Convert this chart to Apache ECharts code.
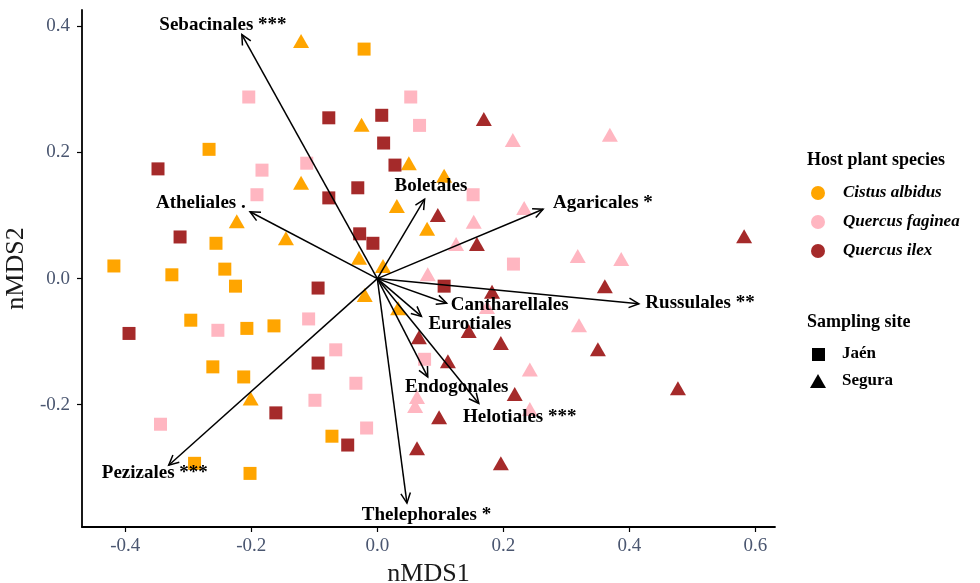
<!DOCTYPE html>
<html>
<head>
<meta charset="utf-8">
<script src="https://cdn.jsdelivr.net/npm/echarts@6/dist/echarts.min.js"></script>
<style>
  html, body { margin: 0; padding: 0; background: #fff; }
  #main { width: 980px; height: 583px; }
</style>
</head>
<body>
<div id="main"></div>
<script>
// site scores (nMDS1, nMDS2) per host plant and sampling site
const cistusJaen = [[-0.021,0.364],[-0.267,0.205],[-0.256,0.056],[-0.418,0.020],[-0.326,0.006],[-0.242,0.015],[-0.225,-0.012],[-0.296,-0.066],[-0.207,-0.079],[-0.164,-0.075],[-0.261,-0.140],[-0.212,-0.156],[-0.072,-0.250],[-0.290,-0.293],[-0.202,-0.309]];
const cistusSegura = [[-0.121,0.377],[-0.025,0.244],[-0.121,0.152],[-0.223,0.091],[-0.145,0.064],[-0.029,0.033],[0.009,0.020],[-0.020,-0.026],[0.033,-0.047],[0.050,0.183],[0.106,0.163],[0.031,0.115],[0.079,0.079],[-0.201,-0.190]];
const fagineaJaen = [[-0.204,0.288],[-0.183,0.172],[-0.112,0.183],[-0.191,0.133],[0.053,0.288],[0.067,0.243],[0.152,0.133],[0.216,0.023],[-0.253,-0.082],[-0.109,-0.064],[-0.066,-0.113],[-0.034,-0.166],[-0.099,-0.193],[-0.344,-0.231],[-0.017,-0.237],[0.075,-0.128]];
const fagineaSegura = [[0.215,0.220],[0.369,0.228],[0.233,0.112],[0.153,0.090],[0.125,0.055],[0.318,0.036],[0.387,0.031],[0.080,0.007],[0.320,-0.074],[0.242,-0.144],[0.063,-0.188],[0.060,-0.202],[0.242,-0.207],[0.174,-0.045]];
const ilexJaen = [[-0.077,0.255],[0.007,0.259],[0.010,0.215],[-0.348,0.174],[0.028,0.180],[-0.031,0.144],[-0.077,0.128],[-0.313,0.066],[-0.028,0.071],[-0.007,0.056],[-0.094,-0.015],[0.106,-0.012],[-0.394,-0.087],[-0.094,-0.134],[-0.161,-0.213],[-0.047,-0.264]];
const ilexSegura = [[0.169,0.253],[0.096,0.101],[0.158,0.055],[0.582,0.067],[0.182,-0.021],[0.361,-0.012],[0.066,-0.093],[0.145,-0.083],[0.196,-0.102],[0.350,-0.112],[0.112,-0.131],[0.218,-0.183],[0.477,-0.174],[0.098,-0.220],[0.063,-0.269],[0.196,-0.293]];

// fitted vectors (envfit) and where their labels sit
const orderNames = ['Sebacinales ***','Atheliales .','Boletales','Agaricales *','Russulales **','Cantharellales','Eurotiales','Endogonales','Helotiales ***','Thelephorales *','Pezizales ***'];
const arrowX = [-0.215,-0.202,0.075,0.263,0.415,0.110,0.070,0.080,0.161,0.047,-0.331];
const arrowY = [0.387,0.106,0.126,0.110,-0.040,-0.039,-0.060,-0.156,-0.198,-0.356,-0.296];
const labelX = [-0.245,-0.280,0.085,0.358,0.512,0.210,0.147,0.126,0.226,0.078,-0.353];
const labelY = [0.402,0.120,0.147,0.120,-0.039,-0.042,-0.072,-0.172,-0.220,-0.375,-0.309];

const ticks = [-0.4, -0.2, 0, 0.2, 0.4, 0.6];
const yTicks = [-0.2, 0, 0.2, 0.4];

const ORANGE = '#FFA500', PINK = '#FFB6C1', BROWN = '#A52A2A';
const SERIF = '"Liberation Serif", "DejaVu Serif", serif';

var chart = echarts.init(document.getElementById('main'));

function pts(name, data, color, symbol) {
  return {
    name: name,
    type: 'scatter',
    data: data,
    symbol: symbol,
    symbolSize: symbol === 'triangle' ? [16, 14] : 13,
    itemStyle: { color: color, opacity: 1 },
    z: 2,
  };
}

chart.setOption({
  animation: false,
  backgroundColor: '#fff',
  grid: { left: 82, right: 205, top: 10, bottom: 56, containLabel: false, outerBoundsMode: 'none' },
  xAxis: {
    type: 'value',
    min: -0.4686,
    max: 0.631,
    name: 'nMDS1',
    nameLocation: 'middle',
    nameGap: 24,
    nameTextStyle: { fontFamily: SERIF, fontSize: 26, color: '#1a1a1a' },
    axisLine: { show: true, onZero: false, lineStyle: { color: '#000', width: 1.8 } },
    axisTick: { show: true, length: 5, customValues: ticks, lineStyle: { color: '#000', width: 1.2 } },
    axisLabel: {
      customValues: ticks,
      margin: 10,
      fontFamily: SERIF,
      fontSize: 19,
      color: '#4a5670',
      formatter: function (v) { return v.toFixed(1); },
    },
    splitLine: { show: false },
  },
  yAxis: {
    type: 'value',
    min: -0.394,
    max: 0.426,
    name: 'nMDS2',
    nameLocation: 'middle',
    nameGap: 43,
    nameTextStyle: { fontFamily: SERIF, fontSize: 26, color: '#1a1a1a' },
    axisLine: { show: true, onZero: false, lineStyle: { color: '#000', width: 1.8 } },
    axisTick: { show: true, length: 5, customValues: yTicks, lineStyle: { color: '#000', width: 1.2 } },
    axisLabel: {
      customValues: yTicks,
      margin: 12,
      fontFamily: SERIF,
      fontSize: 19,
      color: '#4a5670',
      formatter: function (v) { return v.toFixed(1); },
    },
    splitLine: { show: false },
  },
  series: [
    pts('Cistus albidus Jaén', cistusJaen, ORANGE, 'rect'),
    pts('Cistus albidus Segura', cistusSegura, ORANGE, 'triangle'),
    pts('Quercus faginea Jaén', fagineaJaen, PINK, 'rect'),
    pts('Quercus faginea Segura', fagineaSegura, PINK, 'triangle'),
    pts('Quercus ilex Jaén', ilexJaen, BROWN, 'rect'),
    pts('Quercus ilex Segura', ilexSegura, BROWN, 'triangle'),
    {
      // arrows from the origin
      type: 'custom',
      clip: false,
      z: 5,
      data: arrowX.map(function (x, i) { return [x, arrowY[i]]; }),
      renderItem: function (params, api) {
        var o = api.coord([0, 0]);
        var t = api.coord([api.value(0), api.value(1)]);
        var a = Math.atan2(t[1] - o[1], t[0] - o[0]);
        var L = 11, s = Math.PI / 7;
        var p1 = [t[0] - L * Math.cos(a - s), t[1] - L * Math.sin(a - s)];
        var p2 = [t[0] - L * Math.cos(a + s), t[1] - L * Math.sin(a + s)];
        return {
          type: 'group',
          children: [
            { type: 'line', shape: { x1: o[0], y1: o[1], x2: t[0], y2: t[1] }, style: { stroke: '#000', lineWidth: 1.5 } },
            { type: 'polyline', shape: { points: [p1, t, p2] }, style: { stroke: '#000', lineWidth: 1.5, fill: null } },
          ],
        };
      },
    },
    {
      // vector labels
      type: 'custom',
      clip: false,
      z: 6,
      data: labelX.map(function (x, i) { return [x, labelY[i]]; }),
      renderItem: function (params, api) {
        var p = api.coord([api.value(0), api.value(1)]);
        return {
          type: 'text',
          x: p[0],
          y: p[1],
          style: {
            text: orderNames[params.dataIndex],
            align: 'center',
            verticalAlign: 'middle',
            fontFamily: SERIF,
            fontWeight: 'bold',
            fontSize: 19,
            fill: '#000',
          },
        };
      },
    },
  ],
  graphic: [
    { type: 'text', x: 807, y: 160, style: { text: 'Host plant species', fontFamily: SERIF, fontWeight: 'bold', fontSize: 18, verticalAlign: 'middle', fill: '#000' } },
    { type: 'circle', shape: { cx: 818, cy: 193, r: 7 }, style: { fill: ORANGE } },
    { type: 'text', x: 843, y: 193, style: { text: 'Cistus albidus', fontFamily: SERIF, fontWeight: 'bold', fontStyle: 'italic', fontSize: 17, verticalAlign: 'middle', fill: '#000' } },
    { type: 'circle', shape: { cx: 818, cy: 222, r: 7 }, style: { fill: PINK } },
    { type: 'text', x: 843, y: 222, style: { text: 'Quercus faginea', fontFamily: SERIF, fontWeight: 'bold', fontStyle: 'italic', fontSize: 17, verticalAlign: 'middle', fill: '#000' } },
    { type: 'circle', shape: { cx: 818, cy: 251, r: 7 }, style: { fill: BROWN } },
    { type: 'text', x: 843, y: 251, style: { text: 'Quercus ilex', fontFamily: SERIF, fontWeight: 'bold', fontStyle: 'italic', fontSize: 17, verticalAlign: 'middle', fill: '#000' } },
    { type: 'text', x: 807, y: 322, style: { text: 'Sampling site', fontFamily: SERIF, fontWeight: 'bold', fontSize: 18, verticalAlign: 'middle', fill: '#000' } },
    { type: 'rect', shape: { x: 812, y: 348, width: 13, height: 13 }, style: { fill: '#000' } },
    { type: 'text', x: 842, y: 354, style: { text: 'Jaén', fontFamily: SERIF, fontWeight: 'bold', fontSize: 17, verticalAlign: 'middle', fill: '#000' } },
    { type: 'polygon', shape: { points: [[818, 374], [826, 388], [810, 388]] }, style: { fill: '#000' } },
    { type: 'text', x: 842, y: 381, style: { text: 'Segura', fontFamily: SERIF, fontWeight: 'bold', fontSize: 17, verticalAlign: 'middle', fill: '#000' } },
  ],
});
</script>
</body>
</html>
